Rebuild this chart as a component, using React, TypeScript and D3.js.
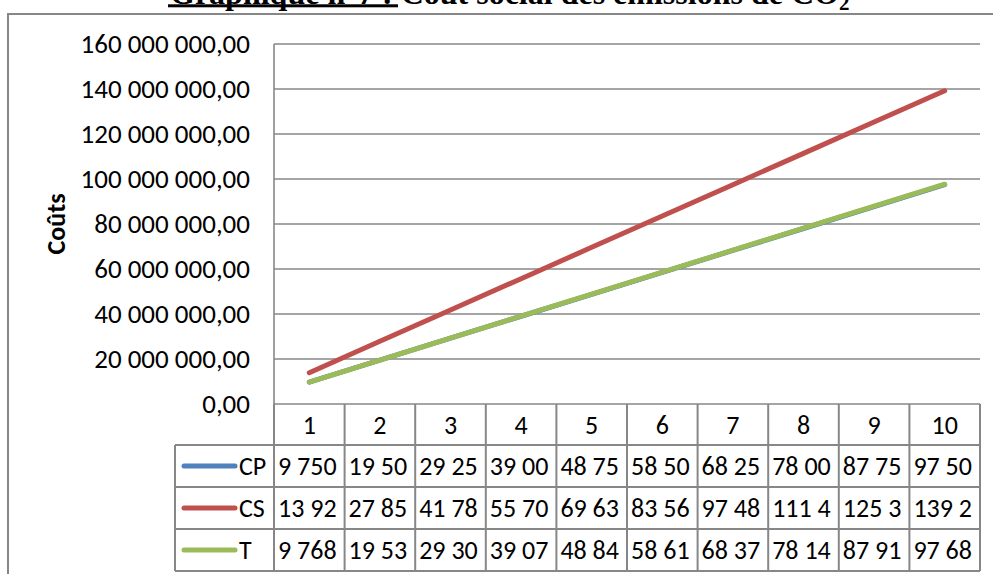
import React from 'react';
import * as d3 from 'd3';

// chart data
const categories = ['1', '2', '3', '4', '5', '6', '7', '8', '9', '10'];
const seriesNames = ['CP', 'CS', 'T'];
const cpValues = [9750000, 19500000, 29250000, 39000000, 48750000, 58500000, 68250000, 78000000, 87750000, 97500000];
const csValues = [13925000, 27850000, 41780000, 55700000, 69630000, 83560000, 97480000, 111400000, 125300000, 139200000];
const tValues = [9768000, 19530000, 29300000, 39070000, 48840000, 58610000, 68370000, 78140000, 87910000, 97680000];
const yTicks = [0, 20000000, 40000000, 60000000, 80000000, 100000000, 120000000, 140000000, 160000000];
const seriesColors = ['#4F81BD', '#C0504D', '#9BBB59'];

const titleMain = 'Graphique n°7 :';
const titleRest = ' Coût social des émissions de CO';
const yTitle = 'Coûts';

const W = 993;
const H = 574;
const plot = { left: 274, right: 980, top: 44, bottom: 404 };
const headerH = 41;
const rowH = 42;
const legendLeft = 175;
const gridColor = '#878787';
const font = 'Carlito, Lato, "Liberation Sans", sans-serif';
const fs = 26;

const fr = d3.formatLocale({ decimal: ',', thousands: '\u00a0', grouping: [3], currency: ['', '€'] });
const fmt = fr.format(',.2f');

const App: React.FC = () => {
  const series = [cpValues, csValues, tValues];

  const x = d3.scaleBand<string>().domain(categories).range([plot.left, plot.right]);
  const y = d3.scaleLinear().domain([0, 160000000]).range([plot.bottom, plot.top]);
  const cx = (c: string) => (x(c) as number) + x.bandwidth() / 2;

  const line = d3
    .line<number>()
    .x((_, i) => cx(categories[i]))
    .y((d) => y(d));

  const tableTop = plot.bottom + headerH;
  const tableBottom = tableTop + rowH * seriesNames.length;

  return (
    <svg width={W} height={H} style={{ position: 'absolute', left: 0, top: 0, background: '#fff' }}>
      {/* title, cut by the top edge */}
      <text x={170} y={3.5} fontFamily='"Liberation Serif", "Times New Roman", serif' fontWeight="bold" fontSize={32} fill="#000">
        <tspan>{titleMain}</tspan>
        <tspan>{titleRest}</tspan>
        <tspan fontSize={21} dy={6}>2</tspan>
      </text>
      <rect x={168} y={4.3} width={230} height={3} fill="#000" />

      {/* chart frame */}
      <rect x={8} y={14} width={W + 20} height={H + 20} fill="none" stroke={gridColor} strokeWidth={2} />

      {/* gridlines */}
      {yTicks.map((t) => (
        <line key={t} x1={plot.left} x2={plot.right} y1={y(t)} y2={y(t)} stroke={gridColor} strokeWidth={1.6} />
      ))}
      <line x1={plot.left} x2={plot.left} y1={plot.top} y2={plot.bottom} stroke={gridColor} strokeWidth={1.6} />

      {/* y tick labels */}
      {yTicks.map((t) => (
        <text key={'l' + t} x={250} y={y(t)} dy="0.35em" textAnchor="end" fontFamily={font} fontSize={27} fill="#000">
          {fmt(t)}
        </text>
      ))}

      <text
        transform={`translate(65,${(plot.top + plot.bottom) / 2}) rotate(-90)`}
        textAnchor="middle"
        fontFamily={font}
        fontWeight="bold"
        fontSize={26}
        fill="#000"
      >
        {yTitle}
      </text>

      {/* data table */}
      <g stroke={gridColor} strokeWidth={2} fill="none">
        {categories.map((c) => (
          <line key={'hv' + c} x1={x(c)} x2={x(c)} y1={plot.bottom} y2={tableBottom} />
        ))}
        <line x1={plot.right} x2={plot.right} y1={plot.bottom} y2={tableBottom} />
        <line x1={legendLeft} x2={legendLeft} y1={tableTop} y2={tableBottom} />
        {seriesNames.map((s, i) => (
          <line key={'hr' + s} x1={legendLeft} x2={plot.right} y1={tableTop + rowH * i} y2={tableTop + rowH * i} />
        ))}
        <line x1={legendLeft} x2={plot.right} y1={tableBottom} y2={tableBottom} />
      </g>

      {categories.map((c) => (
        <text key={'h' + c} x={cx(c)} y={plot.bottom + headerH / 2} dy="0.35em" textAnchor="middle" fontFamily={font} fontSize={fs} fill="#000">
          {c}
        </text>
      ))}

      {seriesNames.map((s, i) => {
        const rowMid = tableTop + rowH * i + rowH / 2;
        return (
          <g key={'row' + s}>
            <line x1={184} x2={235} y1={rowMid} y2={rowMid} stroke={seriesColors[i]} strokeWidth={5} strokeLinecap="round" />
            <text x={239} y={rowMid} dy="0.35em" fontFamily={font} fontSize={fs} fill="#000">
              {s}
            </text>
            {series[i].map((v, j) => (
              <text key={j} x={(x(categories[j]) as number) + 4} y={rowMid} dy="0.35em" fontFamily={font} fontSize={fs} fill="#000">
                {fmt(v).slice(0, 5)}
              </text>
            ))}
          </g>
        );
      })}

      {/* series lines */}
      {series.map((vals, i) => (
        <path key={'s' + i} d={line(vals) || ''} fill="none" stroke={seriesColors[i]} strokeWidth={5} strokeLinecap="round" />
      ))}
    </svg>
  );
};

export default App;
